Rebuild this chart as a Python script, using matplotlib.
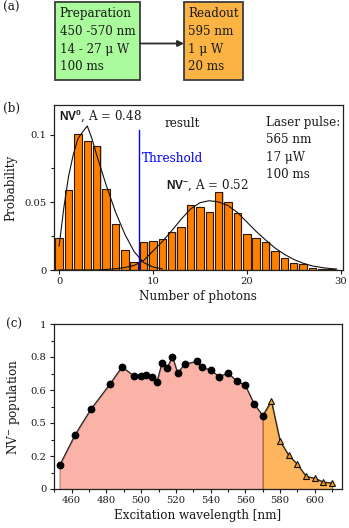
import numpy as np
import matplotlib
matplotlib.use("Agg")
import matplotlib.pyplot as plt
from matplotlib.patches import Rectangle, FancyArrowPatch
from matplotlib.ticker import MultipleLocator, FixedLocator, FixedFormatter

plt.rcParams['font.family'] = ['DejaVu Serif']
plt.rcParams['mathtext.fontset'] = 'custom'
plt.rcParams['mathtext.rm'] = 'DejaVu Serif'
plt.rcParams['mathtext.bf'] = 'Liberation Sans:bold'
plt.rcParams['mathtext.it'] = 'DejaVu Serif:italic'

# ---------------- data ----------------
prep_lines = ["Preparation", "450 -570 nm", "14 - 27 \u03bc W", "100 ms"]
read_lines = ["Readout", "595 nm", "1 \u03bc W", "20 ms"]

photons = np.arange(30)
prob = [0.0234, 0.059, 0.1004, 0.0955, 0.0916, 0.0596, 0.0337, 0.0148, 0.0062,
        0.0204, 0.0214, 0.0227, 0.0283, 0.0314, 0.0483, 0.0462, 0.0432, 0.0579,
        0.0501, 0.0420, 0.0266, 0.0235, 0.0208, 0.0144, 0.0086, 0.0049, 0.0044,
        0.0018, 0.0010, 0.0004]

nv0_x = [0, 0.5, 1, 1.5, 2, 2.5, 3, 3.5, 4, 5, 6, 7, 8, 9, 10, 11]
nv0_y = [0.0177, 0.046, 0.069, 0.085, 0.097, 0.102, 0.1064, 0.097, 0.085, 0.063,
         0.043, 0.0265, 0.0135, 0.0055, 0.0022, 0.0008]

nvm_x = [0, 4, 5, 6, 7, 8, 9, 10, 11, 12, 13, 14, 15, 16, 17, 18, 19, 20, 21,
         22, 23, 24, 25, 26, 27, 28, 29, 29.6]
nvm_y = [0.0, 0.0, 0.0004, 0.0009, 0.0018, 0.0034, 0.0070, 0.0140, 0.0210,
         0.0290, 0.0375, 0.0450, 0.0497, 0.0512, 0.0503, 0.0476, 0.0425, 0.0355,
         0.0285, 0.0222, 0.0163, 0.0116, 0.0078, 0.0050, 0.0030, 0.0018, 0.0010,
         0.0007]

threshold = 8.5

wl_circ = [453, 462, 471, 482, 489, 496, 500, 503, 506, 509, 512, 515, 518, 521,
           525, 532, 535, 540, 545, 550, 555, 560, 565, 570]
pop_circ = [0.143, 0.33, 0.483, 0.636, 0.741, 0.683, 0.685, 0.688, 0.678, 0.647,
            0.765, 0.735, 0.802, 0.703, 0.757, 0.773, 0.738, 0.721, 0.681, 0.703,
            0.655, 0.628, 0.517, 0.445]
wl_tri = [575, 580, 585, 590, 595, 600, 605, 610]
pop_tri = [0.533, 0.291, 0.204, 0.150, 0.077, 0.065, 0.042, 0.036]

c_yticks = [0, 0.2, 0.4, 0.6, 0.8, 1]
c_yticklabels = ["0", "0.2", "0.5", "0.6", "0.8", "1"]
c_xticks = [460, 480, 500, 520, 540, 560, 580, 600]

# ---------------- figure ----------------
W, H = 349, 528
fig = plt.figure(figsize=(W / 100, H / 100), dpi=100)
txtc = '#1a1a1a'
fs_txt = 8.6
fs_tick = 7.2

def axpos(l, r, t, b):
    return [l / W, 1 - b / H, (r - l) / W, (b - t) / H]

# ---- panel (a) ----
axa = fig.add_axes([0, 1 - 86 / H, 1, 86 / H])
axa.set_xlim(0, W)
axa.set_ylim(86, 0)
axa.axis('off')
axa.add_patch(Rectangle((54.5, 2), 85.5, 78, facecolor='#a9fb9b', edgecolor='#3c3c3c', lw=1.3))
axa.add_patch(Rectangle((184, 2), 58.5, 78, facecolor='#fbb444', edgecolor='#3c3c3c', lw=1.3))
axa.add_patch(FancyArrowPatch((140, 43.5), (184, 43.5), arrowstyle='-|>', mutation_scale=9,
                              color='#2a2a2a', lw=1.3, shrinkA=0, shrinkB=0))
ys = [13.5, 31.5, 49.5, 67]
for s, y in zip(prep_lines, ys):
    axa.text(59.5, y, s, ha='left', va='center', fontsize=fs_txt, color=txtc)
for s, y in zip(read_lines, ys):
    axa.text(188, y, s, ha='left', va='center', fontsize=fs_txt, color=txtc)
fig.text(3 / W, 1 - 7.5 / H, "(a)", ha='left', va='center', fontsize=fs_txt, color=txtc)

# ---- panel (b) ----
axb = fig.add_axes(axpos(53.5, 342.5, 105, 270))
axb.bar(photons + 0.13, prob, width=0.8, color='#d8cdbd', edgecolor='none', zorder=1)
axb.bar(photons, prob, width=0.8, color='#ff8000', edgecolor='#2a1800', lw=0.8, zorder=2)
axb.plot(nv0_x, nv0_y, color='#111111', lw=0.8, zorder=3)
axb.plot(nvm_x, nvm_y, color='#111111', lw=0.8, zorder=3)
axb.plot([threshold, threshold], [0, 0.1034], color='#0000ff', lw=1.0, zorder=4)
axb.set_xlim(-0.6, 30.2)
axb.set_ylim(0, 0.1219)
axb.xaxis.set_major_locator(FixedLocator([0, 10, 20, 30]))
axb.yaxis.set_major_locator(FixedLocator([0, 0.05, 0.1]))
axb.yaxis.set_major_formatter(FixedFormatter(["0", "0.05", "0.1"]))
axb.yaxis.set_minor_locator(FixedLocator([0.025, 0.075]))
axb.tick_params(axis='both', which='both', direction='out', labelsize=fs_tick, colors=txtc,
                length=3, width=0.8, pad=2)
axb.tick_params(which='minor', length=2)
for s in axb.spines.values():
    s.set_linewidth(0.9)
    s.set_color('#222222')
axb.set_xlabel("Number of photons", fontsize=fs_txt, color=txtc, labelpad=3)
axb.set_ylabel("Probability", fontsize=fs_txt, color=txtc, labelpad=5)
axb.text(0.0, 0.1137, r"$\mathbf{NV^{0}}$, A = 0.48", ha='left', va='center',
         fontsize=fs_txt, color=txtc)
axb.text(11.4, 0.0623, r"$\mathbf{NV^{-}}$, A = 0.52", ha='left', va='center',
         fontsize=fs_txt, color=txtc)
axb.text(13.1, 0.1083, "result", ha='center', va='center', fontsize=fs_txt, color=txtc)
axb.text(8.8, 0.0825, "Threshold", ha='left', va='center', fontsize=fs_txt, color='#0000ff')
for s, v in zip(["Laser pulse:", "565 nm", "17 \u03bcW", "100 ms"], [0.109, 0.0962, 0.0832, 0.0708]):
    axb.text(22.0, v, s, ha='left', va='center', fontsize=fs_txt, color=txtc)
fig.text(3 / W, 1 - 108 / H, "(b)", ha='left', va='center', fontsize=fs_txt, color=txtc)

# ---- panel (c) ----
axc = fig.add_axes(axpos(53.5, 341.7, 324, 489))
axc.fill_between(wl_circ, pop_circ, 0, color='#fbb2a7', edgecolor='#b07a70', lw=0.8, zorder=1)
tx = [wl_circ[-1]] + wl_tri
ty = [pop_circ[-1]] + pop_tri
axc.fill_between(tx, ty, 0, color='#fdb55e', edgecolor='#a06030', lw=0.8, zorder=1)
axc.plot(wl_circ + wl_tri, pop_circ + pop_tri, color='#222222', lw=0.8, zorder=2)
axc.plot(wl_circ, pop_circ, 'o', ms=4.6, color='black', zorder=3)
axc.plot(wl_tri, pop_tri, '^', ms=4.8, mfc='#f59a1a', mec='#111111', mew=0.8, zorder=3)
axc.set_xlim(449.5, 615.5)
axc.set_ylim(0, 1)
axc.xaxis.set_major_locator(FixedLocator(c_xticks))
axc.xaxis.set_minor_locator(MultipleLocator(10))
axc.yaxis.set_major_locator(FixedLocator(c_yticks))
axc.yaxis.set_major_formatter(FixedFormatter(c_yticklabels))
axc.yaxis.set_minor_locator(MultipleLocator(0.1))
axc.tick_params(axis='both', which='both', direction='out', labelsize=fs_tick, colors=txtc,
                length=3, width=0.8, pad=2)
axc.tick_params(which='minor', length=2)
for s in axc.spines.values():
    s.set_linewidth(0.9)
    s.set_color('#222222')
axc.set_xlabel("Excitation wavelength [nm]", fontsize=fs_txt, color=txtc, labelpad=3)
axc.set_ylabel(r"NV$^{-}$ population", fontsize=fs_txt, color=txtc, labelpad=6)
fig.text(6 / W, 1 - 324 / H, "(c)", ha='left', va='center', fontsize=fs_txt, color=txtc)

fig.savefig("out.png", dpi=100)
